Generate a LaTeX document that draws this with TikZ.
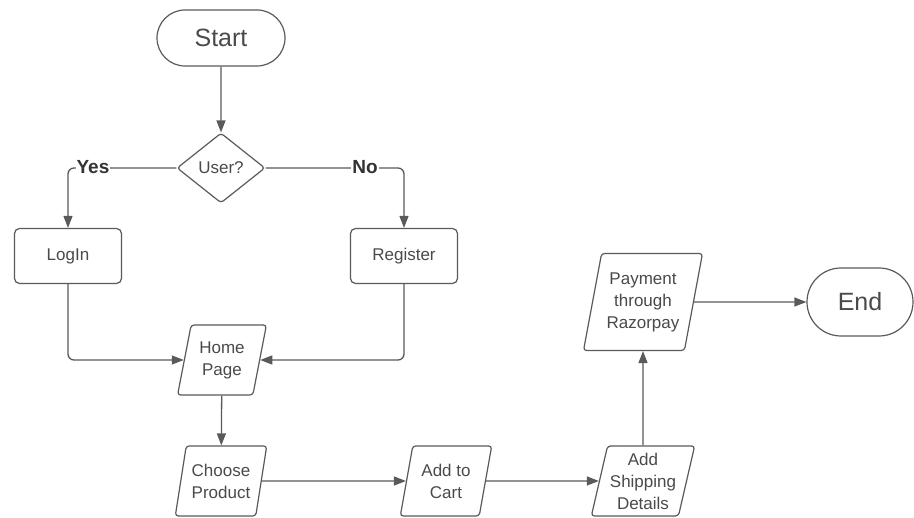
\documentclass[tikz,border=0pt]{standalone}
\usepackage{fontspec}
\setmainfont{Liberation Sans}
\usetikzlibrary{shapes.geometric,shapes.misc,arrows.meta}
\definecolor{txt}{HTML}{4A4A4A}
\definecolor{ln}{HTML}{5A5A5A}
\begin{document}
\begin{tikzpicture}[x=1pt,y=-1pt,
  every node/.style={text=txt, font=\fontsize{17}{22}\selectfont},
  term/.style={draw=ln, line width=1.2pt, rounded rectangle, minimum height=56pt, inner sep=0pt, font=\fontsize{25}{28}\selectfont},
  proc/.style={draw=ln, line width=1.2pt, rectangle, rounded corners=5pt, minimum width=107pt, minimum height=55pt, inner sep=0pt},
  dec/.style={draw=ln, line width=1.2pt, diamond, rounded corners=3pt, minimum width=88pt, minimum height=70pt, inner sep=0pt},
  io/.style={draw=ln, line width=1.2pt, trapezium, trapezium left angle=75, trapezium right angle=105, trapezium stretches=true, rounded corners=3pt, minimum height=70pt, inner sep=0pt, align=center},
  flow/.style={draw=ln, line width=1.3pt, -{Triangle[length=12pt,width=9pt]}},
  lbl/.style={fill=white, inner sep=1pt, font=\bfseries\fontsize{19}{22}\selectfont, text=black!80}
]
\useasboundingbox (0,0) rectangle (914,518);
\fill[white] (0,0) rectangle (914,518);

\node[term, minimum width=128pt] (start) at (221,38) {Start};
\node[dec] (user) at (221,168) {User?};
\node[proc] (login) at (68,256) {LogIn};
\node[proc] (reg) at (404,256) {Register};
\node[io, minimum width=89pt] (home) at (222,360) {Home\\Page};
\node[io, minimum width=92pt] (choose) at (221,481) {Choose\\Product};
\node[io, minimum width=92pt] (cart) at (446,481) {Add to\\Cart};
\node[io, minimum width=104pt] (ship) at (643,481) {Add\\Shipping\\Details};
\node[io, minimum width=119pt, minimum height=97pt] (pay) at (643,302) {Payment\\through\\Razorpay};
\node[term, minimum width=106pt, minimum height=68pt] (end) at (860,302) {End};

\draw[flow] (start) -- (user);
\draw[flow, rounded corners=6pt] (user.west) -| (login.north);
\draw[flow, rounded corners=6pt] (user.east) -| (reg.north);
\node[lbl] (yes) at (93,167) {Yes};
\node[lbl] (no) at (365,167) {No};
\draw[flow, rounded corners=6pt] (login.south) |- (home.west);
\draw[flow, rounded corners=6pt] (reg.south) |- (home.east);
\draw[flow] (home) -- (choose);
\draw[flow] (choose) -- (cart);
\draw[flow] (cart) -- (ship);
\draw[flow] (ship) -- (pay);
\draw[flow] (pay) -- (end);
\end{tikzpicture}
\end{document}
